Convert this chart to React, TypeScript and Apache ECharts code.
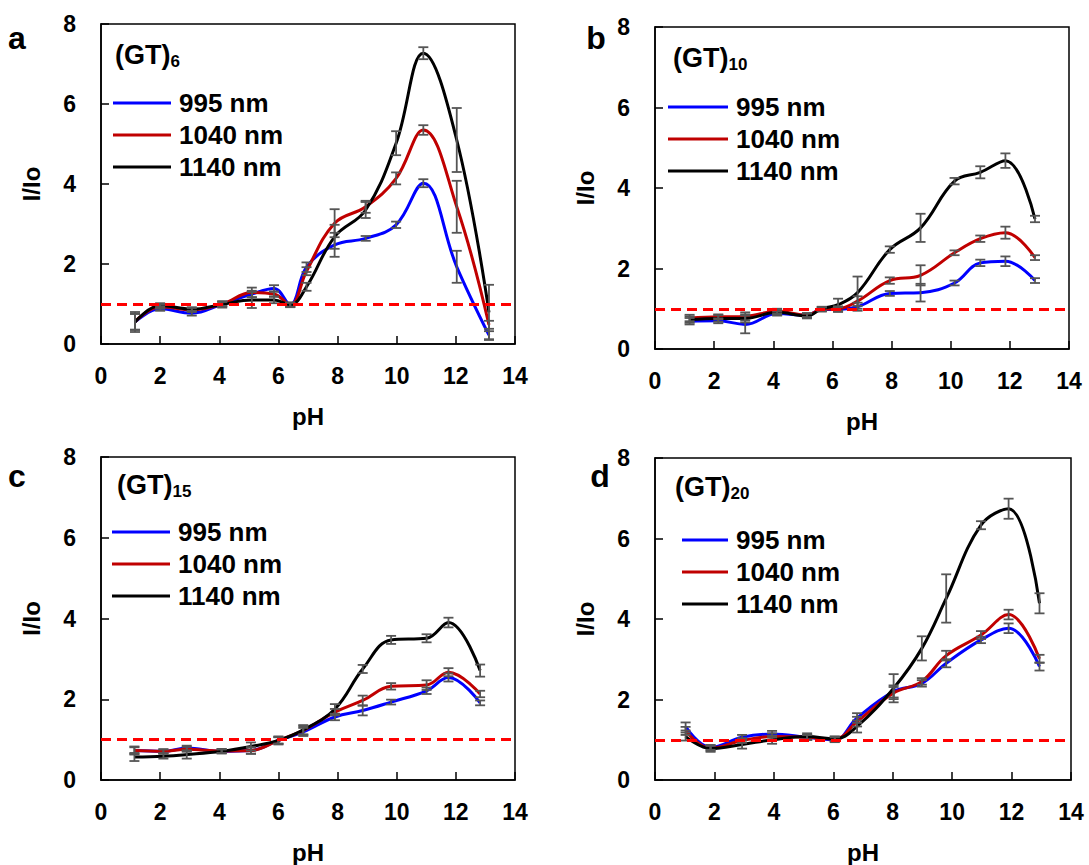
import React, { useEffect, useRef } from "react";
import * as echarts from "echarts";

const FONT = "Liberation Sans, Arial, Helvetica, sans-serif";
const NAMES = ["995 nm", "1040 nm", "1140 nm"];
const COLORS = ["#0000ff", "#c00000", "#000000"];
const X_TICKS = [0, 2, 4, 6, 8, 10, 12, 14];
const Y_TICKS = [0, 2, 4, 6, 8];

// Panel a: (GT)6
const phA = [1.15, 2.0, 3.07, 4.1, 5.1, 5.85, 6.4, 6.95, 7.9, 8.95, 9.98, 10.9, 12.03, 13.12];
const a995 = [0.55, 0.88, 0.77, 1.0, 1.25, 1.39, 0.98, 1.92, 2.48, 2.64, 2.98, 4.02, 1.93, 0.22];
const a1040 = [0.56, 0.93, 0.85, 1.0, 1.29, 1.25, 0.98, 1.82, 3.02, 3.43, 4.14, 5.35, 3.43, 0.48];
const a1140 = [0.55, 0.96, 0.87, 0.99, 1.1, 1.1, 0.98, 1.43, 2.68, 3.35, 5.02, 7.27, 5.1, 0.79];
const a995Err = [0.2, 0.05, 0.06, 0.05, 0.08, 0.08, 0.05, 0.12, 0.3, 0.06, 0.08, 0.1, 0.4, 0.1];
const a1040Err = [0.2, 0.05, 0.05, 0.06, 0.12, 0.06, 0.05, 0.1, 0.35, 0.15, 0.15, 0.12, 0.65, 0.1];
const a1140Err = [0.25, 0.06, 0.05, 0.08, 0.2, 0.08, 0.06, 0.1, 0.3, 0.2, 0.3, 0.15, 0.8, 0.69];

// Panel b: (GT)10
const phB = [1.17, 2.14, 3.05, 4.13, 5.14, 5.64, 6.19, 6.85, 7.94, 8.98, 10.13, 11.0, 11.85, 12.85];
const b995 = [0.69, 0.7, 0.61, 0.88, 0.84, 0.98, 0.98, 1.05, 1.38, 1.4, 1.64, 2.14, 2.18, 1.7];
const b1040 = [0.77, 0.8, 0.81, 0.94, 0.84, 0.99, 1.0, 1.19, 1.7, 1.83, 2.39, 2.74, 2.89, 2.27];
const b1140 = [0.73, 0.76, 0.76, 0.91, 0.82, 1.0, 1.1, 1.4, 2.47, 3.01, 4.17, 4.39, 4.68, 3.23];
const b995Err = [0.08, 0.06, 0.22, 0.05, 0.05, 0.05, 0.06, 0.1, 0.06, 0.22, 0.06, 0.08, 0.12, 0.06];
const b1040Err = [0.08, 0.06, 0.1, 0.06, 0.05, 0.05, 0.06, 0.12, 0.08, 0.25, 0.06, 0.08, 0.15, 0.06];
const b1140Err = [0.08, 0.08, 0.1, 0.06, 0.06, 0.05, 0.15, 0.4, 0.08, 0.35, 0.08, 0.15, 0.18, 0.08];

// Panel c: (GT)15
const phC = [1.13, 2.11, 2.9, 4.08, 5.07, 6.0, 6.84, 7.91, 8.85, 9.81, 11.01, 11.75, 12.82];
const c995 = [0.73, 0.71, 0.79, 0.71, 0.73, 0.98, 1.19, 1.56, 1.72, 1.93, 2.21, 2.54, 1.91];
const c1040 = [0.73, 0.71, 0.76, 0.72, 0.73, 0.98, 1.23, 1.68, 1.97, 2.32, 2.35, 2.67, 2.13];
const c1140 = [0.57, 0.59, 0.63, 0.71, 0.83, 0.98, 1.24, 1.76, 2.75, 3.47, 3.51, 3.9, 2.71];
const c995Err = [0.1, 0.05, 0.06, 0.05, 0.08, 0.08, 0.1, 0.08, 0.12, 0.06, 0.08, 0.1, 0.06];
const c1040Err = [0.08, 0.05, 0.06, 0.05, 0.08, 0.08, 0.1, 0.08, 0.12, 0.08, 0.12, 0.1, 0.08];
const c1140Err = [0.1, 0.06, 0.1, 0.05, 0.1, 0.1, 0.12, 0.12, 0.1, 0.1, 0.1, 0.12, 0.15];

// Panel d: (GT)20
const phD = [1.03, 1.87, 2.93, 3.94, 5.12, 6.05, 6.8, 8.03, 8.98, 9.8, 10.97, 11.9, 12.94];
const d995 = [1.33, 0.81, 1.06, 1.14, 1.06, 1.0, 1.54, 2.2, 2.4, 2.9, 3.48, 3.77, 2.82];
const d1040 = [1.22, 0.79, 0.98, 1.08, 1.06, 1.02, 1.45, 2.16, 2.45, 3.09, 3.6, 4.11, 3.01];
const d1140 = [1.08, 0.78, 0.88, 1.0, 1.08, 1.02, 1.33, 2.28, 3.27, 4.51, 6.33, 6.74, 4.39];
const d995Err = [0.1, 0.06, 0.06, 0.08, 0.06, 0.06, 0.12, 0.15, 0.08, 0.1, 0.08, 0.12, 0.1];
const d1040Err = [0.1, 0.06, 0.06, 0.08, 0.06, 0.06, 0.12, 0.15, 0.08, 0.12, 0.1, 0.12, 0.1];
const d1140Err = [0.1, 0.08, 0.1, 0.1, 0.08, 0.06, 0.15, 0.35, 0.3, 0.6, 0.1, 0.25, 0.25];

const PANELS = [
  { letter: "a", sub: "6", ph: phA, vals: [a995, a1040, a1140], errs: [a995Err, a1040Err, a1140Err] },
  { letter: "b", sub: "10", ph: phB, vals: [b995, b1040, b1140], errs: [b995Err, b1040Err, b1140Err] },
  { letter: "c", sub: "15", ph: phC, vals: [c995, c1040, c1140], errs: [c995Err, c1040Err, c1140Err] },
  { letter: "d", sub: "20", ph: phD, vals: [d995, d1040, d1140], errs: [d995Err, d1040Err, d1140Err] },
];

// layout (pixels)
const GRIDS = [
  { left: 101, top: 24, width: 414, height: 320 },
  { left: 655, top: 27, width: 414, height: 322 },
  { left: 101, top: 457, width: 414, height: 323 },
  { left: 655, top: 458, width: 416, height: 322 },
];
const LEGENDS = [
  { left: 113, top: 90, w: 58 },
  { left: 668, top: 94, w: 60 },
  { left: 112, top: 519, w: 58 },
  { left: 682, top: 527, w: 46 },
];
const TITLES = [
  { left: 115, top: 36 },
  { left: 673, top: 39 },
  { left: 117, top: 466 },
  { left: 675, top: 468 },
];
const LETTERS = [
  { x: 17, y: 38 },
  { x: 596, y: 38 },
  { x: 17, y: 476 },
  { x: 600, y: 476 },
];

function errRender(params: any, api: any) {
  const x = api.value(0);
  const y = api.value(1);
  const e = api.value(2);
  const top = api.coord([x, y + e]);
  const bot = api.coord([x, y - e]);
  const hw = 5;
  const style = { stroke: "#555555", lineWidth: 1.8 };
  return {
    type: "group",
    children: [
      { type: "line", shape: { x1: top[0], y1: top[1], x2: bot[0], y2: bot[1] }, style },
      { type: "line", shape: { x1: top[0] - hw, y1: top[1], x2: top[0] + hw, y2: top[1] }, style },
      { type: "line", shape: { x1: bot[0] - hw, y1: bot[1], x2: bot[0] + hw, y2: bot[1] }, style },
    ],
  };
}

export default function App() {
  const ref = useRef<HTMLDivElement>(null);
  useEffect(() => {
    if (!ref.current) return;
    const chart = echarts.init(ref.current, null, { renderer: "svg" });
    const grid: any[] = [];
    const xAxis: any[] = [];
    const yAxis: any[] = [];
    const series: any[] = [];
    const legend: any[] = [];
    const title: any[] = [];
    const graphic: any[] = [];

    PANELS.forEach((p, i) => {
      grid.push({ ...GRIDS[i], show: true, borderColor: "#000", borderWidth: 1.5, backgroundColor: "transparent" });
      xAxis.push({
        type: "value",
        gridIndex: i,
        min: X_TICKS[0],
        max: X_TICKS[X_TICKS.length - 1],
        interval: X_TICKS[1] - X_TICKS[0],
        name: "pH",
        nameLocation: "middle",
        nameGap: 60,
        nameTextStyle: { fontFamily: FONT, fontWeight: "bold", fontSize: 24, color: "#000" },
        axisLine: { show: true, lineStyle: { color: "#000", width: 1.5 } },
        axisTick: { show: true, inside: true, length: 8, lineStyle: { color: "#000", width: 1.5 } },
        axisLabel: { fontFamily: FONT, fontWeight: "bold", fontSize: 23, color: "#000", margin: 20 },
        splitLine: { show: false },
      });
      yAxis.push({
        type: "value",
        gridIndex: i,
        min: Y_TICKS[0],
        max: Y_TICKS[Y_TICKS.length - 1],
        interval: Y_TICKS[1] - Y_TICKS[0],
        name: "I/Io",
        nameLocation: "middle",
        nameGap: 58,
        nameTextStyle: { fontFamily: FONT, fontWeight: "bold", fontSize: 24, color: "#000" },
        axisLine: { show: true, lineStyle: { color: "#000", width: 1.5 } },
        axisTick: { show: true, inside: true, length: 8, lineStyle: { color: "#000", width: 1.5 } },
        axisLabel: { fontFamily: FONT, fontWeight: "bold", fontSize: 23, color: "#000", margin: 25 },
        splitLine: { show: false },
      });
      p.vals.forEach((v, k) => {
        const s: any = {
          type: "line",
          name: NAMES[k],
          xAxisIndex: i,
          yAxisIndex: i,
          data: p.ph.map((x, j) => [x, v[j]]),
          smooth: 0.4,
          symbol: "none",
          lineStyle: { color: COLORS[k], width: 3 },
          itemStyle: { color: COLORS[k] },
          z: 3,
        };
        if (k === 0) {
          s.markLine = {
            silent: true,
            symbol: "none",
            label: { show: false },
            lineStyle: { color: "#ff0000", type: [10, 6], width: 3 },
            data: [{ yAxis: 1 }],
            z: 5,
          };
        }
        series.push(s);
      });
      const errData: any[] = [];
      p.vals.forEach((v, k) => {
        p.ph.forEach((x, j) => errData.push([x, v[j], p.errs[k][j]]));
      });
      series.push({
        type: "custom",
        name: "err" + i,
        xAxisIndex: i,
        yAxisIndex: i,
        data: errData,
        renderItem: errRender,
        encode: { x: 0, y: 1 },
        z: 4,
        silent: true,
      });
      legend.push({
        data: NAMES,
        orient: "vertical",
        left: LEGENDS[i].left,
        top: LEGENDS[i].top,
        padding: 0,
        itemGap: 6,
        itemWidth: LEGENDS[i].w,
        itemHeight: 3,
        icon: "rect",
        selectedMode: false,
        textStyle: { fontFamily: FONT, fontWeight: "bold", fontSize: 26, color: "#000", lineHeight: 26, padding: [0, 0, 0, 3] },
      });
      title.push({
        left: TITLES[i].left,
        top: TITLES[i].top,
        padding: 0,
        text: "{m|(GT)}{s|" + p.sub + "}",
        textStyle: {
          rich: {
            m: { fontFamily: FONT, fontWeight: "bold", fontSize: 27, color: "#000", lineHeight: 32, verticalAlign: "bottom" },
            s: { fontFamily: FONT, fontWeight: "bold", fontSize: 17, color: "#000", lineHeight: 32, verticalAlign: "bottom", padding: [0, 0, -2, 0] },
          },
        },
      });
      graphic.push({
        type: "text",
        x: LETTERS[i].x,
        y: LETTERS[i].y,
        style: {
          text: p.letter,
          fontFamily: FONT,
          fontWeight: "bold",
          fontSize: 32,
          fill: "#000",
          align: "center",
          verticalAlign: "middle",
        },
      });
    });

    chart.setOption({
      animation: false,
      backgroundColor: "#ffffff",
      grid,
      xAxis,
      yAxis,
      series,
      legend,
      title,
      graphic,
    });
    return () => chart.dispose();
  }, []);
  return <div ref={ref} style={{ position: "absolute", left: 0, top: 0, width: 1089, height: 865 }} />;
}
